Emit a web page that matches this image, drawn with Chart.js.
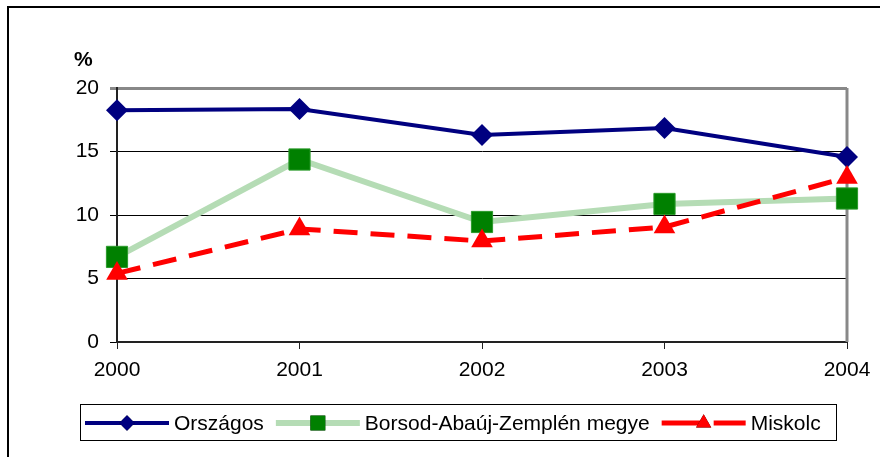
<!DOCTYPE html>
<html lang="hu">
<head>
    <meta charset="UTF-8">
    <title>Országos / Borsod-Abaúj-Zemplén megye / Miskolc</title>
    <script src="https://cdn.jsdelivr.net/npm/chart.js"></script>
    <style>
        body { margin: 0; padding: 0; background: #fff; }
        #wrap { width: 880px; height: 457px; position: relative; }
    </style>
</head>
<body>
    <div id="wrap"><canvas id="chart"></canvas></div>

    <script>
        // data
        const years = ['2000', '2001', '2002', '2003', '2004'];
        const orszagos = [18.25, 18.35, 16.3, 16.85, 14.57];
        const borsod = [6.7, 14.37, 9.45, 10.87, 11.3];
        const miskolc = [5.4, 8.9, 7.95, 9.05, 12.95];
        const yTicks = [0, 5, 10, 15, 20];

        const FONT = "'Liberation Sans', Arial, sans-serif";
        const SIZE = 21;

        // frame, % label, plot borders and the boxed legend
        const decor = {
            id: 'decor',
            beforeDatasetsDraw(chart) {
                const ctx = chart.ctx;
                const a = chart.chartArea;
                ctx.save();
                ctx.strokeStyle = '#888';
                ctx.lineWidth = 3;
                ctx.beginPath();
                ctx.moveTo(a.right, a.top);
                ctx.lineTo(a.right, a.bottom);
                ctx.stroke();
                ctx.restore();
            },
            afterDraw(chart) {
                const ctx = chart.ctx;
                ctx.save();
                // outer frame (only top and left are inside the picture)
                ctx.strokeStyle = '#000';
                ctx.lineWidth = 2;
                ctx.beginPath();
                ctx.moveTo(8, 460);
                ctx.lineTo(8, 7);
                ctx.lineTo(884, 7);
                ctx.stroke();

                ctx.fillStyle = '#000';
                ctx.font = 'bold ' + SIZE + 'px ' + FONT;
                ctx.textBaseline = 'alphabetic';
                ctx.textAlign = 'left';
                ctx.fillText('%', 74, 66);

                // legend box
                ctx.lineWidth = 1;
                ctx.strokeRect(80.5, 404.5, 756, 36);

                ctx.font = SIZE + 'px ' + FONT;
                ctx.textBaseline = 'middle';
                let x = 85;
                const y = 423;
                chart.data.datasets.forEach((ds) => {
                    ctx.save();
                    ctx.strokeStyle = ds.borderColor;
                    ctx.lineWidth = ds.borderWidth;
                    ctx.setLineDash(ds.borderDash ? [40, 12] : []);
                    ctx.beginPath();
                    ctx.moveTo(x, y);
                    ctx.lineTo(x + 84, y);
                    ctx.stroke();
                    ctx.restore();
                    Chart.helpers.drawPoint(ctx, {
                        pointStyle: ds.pointStyle,
                        radius: ds.pointRadius * 0.7,
                        borderWidth: 0
                    }, x + 42, y);
                    ctx.fillStyle = ds.pointBackgroundColor;
                    ctx.fill();
                    ctx.fillStyle = '#000';
                    ctx.fillText(ds.label, x + 89, y + 1);
                    x += 89 + ctx.measureText(ds.label).width + 12;
                });
                ctx.restore();
            }
        };

        new Chart(document.getElementById('chart'), {
            type: 'line',
            data: {
                labels: years,
                datasets: [{
                    label: 'Országos',
                    data: orszagos,
                    borderColor: '#000080',
                    borderWidth: 4,
                    pointStyle: 'rectRot',
                    pointRadius: 11,
                    pointBackgroundColor: '#000080',
                    pointBorderColor: '#000080',
                    pointBorderWidth: 0,
                    order: 3,
                    clip: false
                }, {
                    label: 'Borsod-Abaúj-Zemplén megye',
                    data: borsod,
                    borderColor: '#b5dcb5',
                    borderWidth: 6,
                    pointStyle: 'rect',
                    pointRadius: 15,
                    pointBackgroundColor: '#008000',
                    pointBorderColor: '#2a9a2a',
                    pointBorderWidth: 1,
                    order: 2,
                    clip: false
                }, {
                    label: 'Miskolc',
                    data: miskolc,
                    borderColor: '#ff0000',
                    borderWidth: 5,
                    borderDash: [24, 13],
                    pointStyle: 'triangle',
                    pointRadius: 12.5,
                    pointBackgroundColor: '#ff0000',
                    pointBorderColor: '#ff0000',
                    pointBorderWidth: 0,
                    order: 1,
                    clip: false
                }]
            },
            options: {
                responsive: true,
                maintainAspectRatio: false,
                animation: false,
                layout: { padding: { top: 88, right: 33, bottom: 0, left: 0 } },
                elements: { line: { tension: 0 } },
                plugins: {
                    legend: { display: false },
                    tooltip: { enabled: false }
                },
                scales: {
                    x: {
                        offset: false,
                        afterFit: s => { s.height = 115; },
                        border: { color: '#222', width: 2 },
                        grid: { drawOnChartArea: false, drawTicks: true, tickLength: 7, color: '#222' },
                        ticks: { color: '#000', font: { family: FONT, size: SIZE }, padding: 9, maxRotation: 0 }
                    },
                    y: {
                        min: 0,
                        max: 20,
                        afterFit: s => { s.width = 117; },
                        afterBuildTicks: s => { s.ticks = yTicks.map(v => ({ value: v })); },
                        border: { color: '#222', width: 2 },
                        grid: {
                            tickLength: 7,
                            color: c => c.tick && c.tick.value === 20 ? '#888' : '#000',
                            lineWidth: c => c.tick && c.tick.value === 20 ? 3 : 1
                        },
                        ticks: { color: '#000', font: { family: FONT, size: SIZE }, padding: 11 }
                    }
                }
            },
            plugins: [decor]
        });
    </script>
</body>
</html>
